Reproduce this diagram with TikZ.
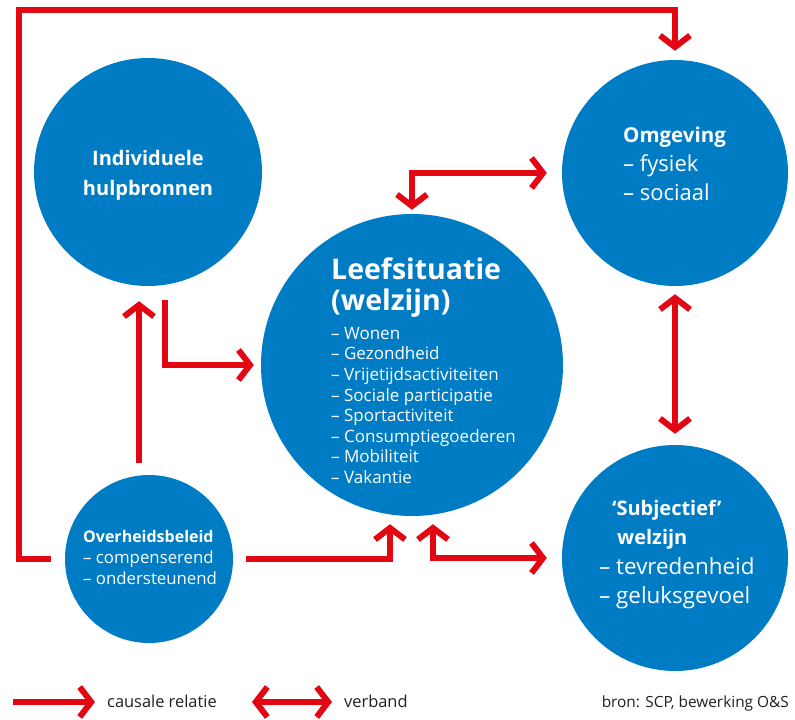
\documentclass[tikz,border=0pt]{standalone}
\usepackage{fontspec}
\setmainfont{Open Sans}
\usetikzlibrary{arrows.meta, calc}
\definecolor{scpblue}{RGB}{0,124,196}
\definecolor{linkred}{RGB}{227,6,19}
\definecolor{legendgray}{RGB}{35,31,32}
\tikzset{barb/.tip={Straight Barb[length=11.5pt, width=30pt, line join=miter, line cap=butt]}}

\begin{document}
\begin{tikzpicture}[x=1pt, y=-1pt,
    bubble/.style={circle, fill=scpblue, inner sep=0pt},
    bubbletext/.style={text=white, inner sep=0pt, align=left, anchor=north west},
    link/.style={draw=linkred, line width=6pt},
    causal/.style={link, -barb},
    assoc/.style={link, barb-barb},
    legendtext/.style={text=legendgray, inner sep=0pt, font=\fontsize{16.4}{20}\selectfont}]
  \useasboundingbox (0,0) rectangle (795,720);
  % circles
  \node[bubble, minimum size=228pt] (hulp) at (148,172) {};
  \node[bubble, minimum size=226pt] (omgeving) at (675,173) {};
  \node[bubble, minimum size=302pt] (leef) at (412,365) {};
  \node[bubble, minimum size=168pt] (beleid) at (149,559) {};
  \node[bubble, minimum size=226pt] (subj) at (675,558) {};
  % texts in the circles
  \node[bubbletext, anchor=center, align=center, font=\fontsize{20}{30}\selectfont\bfseries] (hulptext) at (148,175) {Individuele\\hulpbronnen};
  \node[bubbletext, font=\fontsize{22}{29}\selectfont] (omgevingtext) at (623,127)
    {{\fontsize{20.5}{29}\selectfont\bfseries Omgeving}\\– fysiek\\– sociaal};
  \node[bubbletext, font=\fontsize{28.5}{31}\selectfont\bfseries] (leeftitle) at (331,257) {Leefsituatie\\(welzijn)};
  \node[bubbletext, font=\fontsize{17}{20.6}\selectfont] (leeflist) at (331,327)
    {– Wonen\\– Gezondheid\\– Vrijetijdsactiviteiten\\– Sociale participatie\\– Sportactiviteit\\– Consumptiegoederen\\– Mobiliteit\\– Vakantie};
  \node[bubbletext, font=\fontsize{16.8}{21}\selectfont] (beleidtext) at (83,530)
    {{\fontsize{16}{21}\selectfont\bfseries Overheidsbeleid}\\– compenserend\\– ondersteunend};
  \node[bubbletext, font=\fontsize{22.4}{29.3}\selectfont] (subjtext) at (599,500)
    {{\fontsize{20}{29.3}\selectfont\bfseries\hspace*{13pt}‘Subjectief’}\\{\fontsize{20}{29.3}\selectfont\bfseries\hspace*{18pt}welzijn}\\– tevredenheid\\– geluksgevoel};
  % relations
  \coordinate (loopcorner) at (19,10);
  \draw[causal, shorten <=14pt, shorten >=9pt] (beleid.west) -| (loopcorner) -| (omgeving.north);
  \draw[causal, shorten <=12pt, shorten >=15pt] ([xshift=-10pt]beleid.north) -- ([xshift=-10pt]beleid.north |- hulp.south);
  \draw[causal, shorten <=14pt, shorten >=7pt] ([xshift=17pt]hulp.south) |- (leef.west);
  \draw[causal, shorten <=13pt, shorten >=8pt] (beleid.east) -| ([xshift=-22pt]leef.south);
  \draw[assoc, shorten <=8pt, shorten >=15pt] ([xshift=21pt]leef.south) |- (subj.west);
  \draw[assoc, shorten <=4pt, shorten >=15pt] (leef.north) |- (omgeving.west);
  \draw[assoc, shorten <=8pt, shorten >=11pt] (omgeving.south) -- (subj.north);
  % legend
  \node[legendtext, anchor=base west] (causaltext) at (107,707) {causale relatie};
  \node[legendtext, anchor=base west] (assoctext) at (344,707) {verband};
  \node[legendtext, anchor=base east, font=\fontsize{15.4}{18}\selectfont] (sourcetext) at (789,707) {bron: SCP, bewerking O\&S};
  \coordinate (causalstart) at (13,702);
  \coordinate (assocstart) at (252,702);
  \draw[causal, shorten >=12pt] (causalstart) -- (causalstart -| causaltext.west);
  \draw[assoc, shorten >=12pt] (assocstart) -- (assocstart -| assoctext.west);
\end{tikzpicture}
\end{document}
